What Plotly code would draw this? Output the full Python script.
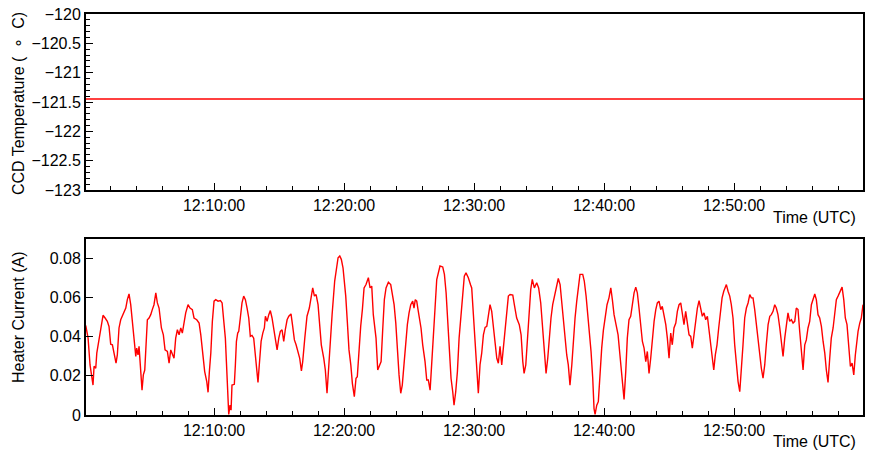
import pandas as pd
import plotly.graph_objects as go

# ---- data ----
BASE = "2016-01-01 12:00:00"

ccd_minutes = [0.10, 30.0, 59.95]
ccd_temp = [-121.45, -121.45, -121.45]

heater_minutes = [
    0.13, 0.31, 0.46, 0.56, 0.69, 0.77, 0.90, 0.98, 1.15, 1.33, 1.46, 1.62, 1.79, 1.92, 2.05, 2.18,
    2.31, 2.46, 2.56, 2.69, 2.82, 3.02, 3.21, 3.33, 3.46, 3.59, 3.72, 3.85, 3.98, 4.05, 4.15, 4.23,
    4.36, 4.46, 4.56, 4.67, 4.77, 4.87, 5.00, 5.13, 5.25, 5.38, 5.52, 5.64, 5.77, 5.95, 6.10, 6.23,
    6.41, 6.54, 6.67, 6.79, 6.92, 7.05, 7.18, 7.31, 7.44, 7.56, 7.69, 7.82, 8.00, 8.15, 8.33, 8.46,
    8.67, 8.85, 8.98, 9.10, 9.28, 9.44, 9.54, 9.64, 9.75, 9.87, 10.00, 10.13, 10.31, 10.49, 10.62,
    10.75, 10.87, 10.95, 11.02, 11.13, 11.23, 11.31, 11.38, 11.56, 11.64, 11.72, 11.82, 11.90, 12.02,
    12.15, 12.28, 12.41, 12.54, 12.67, 12.79, 12.92, 13.05, 13.18, 13.31, 13.38, 13.48, 13.62, 13.75,
    13.87, 13.95, 14.08, 14.21, 14.33, 14.46, 14.59, 14.72, 14.85, 14.98, 15.10, 15.23, 15.36, 15.48,
    15.62, 15.75, 15.92, 16.05, 16.18, 16.31, 16.46, 16.59, 16.72, 16.82, 16.98, 17.15, 17.33, 17.48,
    17.59, 17.72, 17.85, 18.00, 18.13, 18.25, 18.44, 18.56, 18.69, 18.82, 18.95, 19.08, 19.28, 19.38,
    19.54, 19.67, 19.79, 19.92, 20.00, 20.13, 20.25, 20.38, 20.52, 20.64, 20.79, 20.92, 21.02, 21.15,
    21.28, 21.41, 21.54, 21.69, 21.87, 22.00, 22.13, 22.25, 22.46, 22.59, 22.72, 22.85, 22.98, 23.10,
    23.23, 23.41, 23.59, 23.72, 23.85, 23.98, 24.10, 24.23, 24.36, 24.48, 24.62, 24.75, 24.87, 25.00,
    25.13, 25.28, 25.38, 25.48, 25.59, 25.69, 25.79, 25.92, 26.05, 26.23, 26.36, 26.48, 26.62, 26.75,
    26.87, 27.00, 27.13, 27.26, 27.38, 27.59, 27.72, 27.85, 27.98, 28.10, 28.23, 28.36, 28.46, 28.59,
    28.72, 28.85, 28.98, 29.13, 29.25, 29.38, 29.56, 29.73, 29.82, 29.95, 30.08, 30.21, 30.33, 30.46,
    30.59, 30.72, 30.85, 30.98, 31.10, 31.23, 31.36, 31.48, 31.62, 31.75, 31.87, 32.00, 32.13, 32.25,
    32.38, 32.52, 32.64, 32.77, 32.98, 33.10, 33.28, 33.48, 33.62, 33.75, 33.85, 33.98, 34.10, 34.23,
    34.36, 34.48, 34.64, 34.82, 34.97, 35.13, 35.28, 35.41, 35.54, 35.67, 35.79, 35.92, 36.05, 36.18,
    36.31, 36.48, 36.62, 36.75, 36.87, 37.00, 37.13, 37.25, 37.38, 37.52, 37.64, 37.77, 37.90, 38.02,
    38.15, 38.36, 38.48, 38.62, 38.75, 38.87, 39.00, 39.13, 39.23, 39.31, 39.44, 39.56, 39.69, 39.82,
    39.95, 40.10, 40.23, 40.38, 40.52, 40.64, 40.77, 40.95, 41.08, 41.21, 41.33, 41.46, 41.54, 41.67,
    41.79, 41.92, 42.05, 42.18, 42.31, 42.44, 42.56, 42.69, 42.82, 42.95, 43.08, 43.21, 43.33, 43.46,
    43.59, 43.72, 43.85, 43.98, 44.10, 44.23, 44.36, 44.48, 44.62, 44.75, 44.87, 45.00, 45.13, 45.25,
    45.38, 45.52, 45.64, 45.77, 45.90, 46.02, 46.15, 46.28, 46.41, 46.54, 46.67, 46.79, 46.92, 47.05,
    47.18, 47.31, 47.44, 47.56, 47.69, 47.82, 47.95, 48.08, 48.21, 48.33, 48.44, 48.56, 48.69, 48.82,
    48.95, 49.08, 49.21, 49.41, 49.54, 49.67, 49.79, 49.92, 50.05, 50.18, 50.31, 50.44, 50.56, 50.69,
    50.82, 50.95, 51.08, 51.21, 51.33, 51.46, 51.59, 51.72, 51.85, 51.98, 52.10, 52.23, 52.36, 52.48,
    52.62, 52.75, 52.87, 53.00, 53.13, 53.25, 53.38, 53.52, 53.64, 53.77, 53.90, 54.02, 54.15, 54.28,
    54.41, 54.54, 54.67, 54.79, 54.92, 55.05, 55.18, 55.31, 55.44, 55.56, 55.69, 55.82, 55.95, 56.08,
    56.21, 56.33, 56.46, 56.59, 56.72, 56.85, 56.98, 57.10, 57.23, 57.36, 57.48, 57.62, 57.75, 57.87,
    58.00, 58.18, 58.31, 58.44, 58.56, 58.69, 58.82, 58.95, 59.08, 59.21, 59.33, 59.41, 59.54, 59.67,
    59.79, 59.92,
]

heater_mA = [
    45.8, 39.3, 25.6, 20.5, 15.3, 24.9, 23.9, 31.6, 39.3, 45.8, 51.0, 49.6, 47.9, 45.3, 36.2, 35.9,
    31.6, 26.5, 30.7, 44.5, 48.7, 52.2, 54.7, 59.0, 61.9, 56.4, 47.9, 35.9, 29.9, 34.2, 30.7, 35.1,
    23.9, 12.7, 20.5, 23.0, 35.9, 48.7, 49.6, 51.3, 53.9, 56.4, 62.5, 57.3, 54.7, 44.5, 41.0, 33.3,
    32.5, 26.5, 33.3, 31.6, 29.0, 39.3, 43.6, 41.0, 44.5, 41.9, 47.9, 52.2, 56.4, 54.7, 53.9, 49.6,
    48.7, 47.0, 41.0, 32.5, 22.2, 17.1, 11.6, 22.2, 31.6, 47.9, 58.2, 59.0, 58.2, 58.5, 57.3,
    47.9, 39.3, 27.3, 12.7, 0.3, 5.0, 2.5, 15.3, 15.7, 25.6, 37.6, 41.9, 42.8, 49.6,
    57.3, 60.8, 59.0, 54.7, 49.6, 40.2, 40.7, 39.3, 31.6, 22.2, 16.7, 25.6, 37.6, 41.9,
    44.5, 50.5, 47.9, 51.3, 53.4, 49.6, 44.5, 37.6, 33.3, 39.3, 42.8, 43.6, 37.6, 43.6,
    48.7, 50.5, 51.7, 45.3, 38.4, 35.9, 31.6, 29.0, 22.5, 27.3, 39.3, 50.5, 54.7, 59.9,
    65.0, 60.8, 61.6, 56.4, 46.2, 35.9, 29.0, 23.0, 11.1, 25.6, 41.0, 51.3, 68.5, 73.6,
    80.4, 81.3, 79.6, 75.3, 70.2, 60.8, 47.9, 33.3, 25.6, 16.2, 9.4, 18.8, 19.6, 35.9,
    45.3, 53.9, 65.0, 66.7, 70.2, 65.0, 65.9, 51.3, 39.3, 23.0, 24.8, 27.3, 44.5, 59.0,
    65.0, 67.9, 66.7, 62.5, 56.4, 47.0, 32.5, 20.5, 11.1, 15.3, 26.5, 39.3, 46.2, 52.2,
    56.4, 58.2, 54.7, 59.0, 58.2, 53.9, 50.5, 44.5, 35.9, 27.3, 17.9, 17.9, 12.7, 25.6,
    39.3, 54.7, 69.3, 73.6, 76.2, 75.7, 71.9, 62.5, 47.9, 34.2, 18.8, 11.9, 5.0, 11.9,
    22.2, 39.3, 51.3, 65.0, 71.0, 72.7, 70.2, 66.6, 65.0, 51.3, 35.9, 25.6, 11.1, 25.6,
    31.6, 41.0, 44.8, 45.3, 50.5, 56.4, 53.0, 44.5, 36.8, 29.0, 26.5, 35.1, 25.6, 33.3,
    41.0, 51.3, 60.8, 61.6, 61.3, 56.4, 49.6, 46.2, 41.0, 27.3, 21.3, 25.6, 39.3, 51.3,
    64.1, 69.3, 65.0, 67.6, 65.0, 57.3, 45.3, 32.5, 21.3, 29.0, 39.3, 49.6, 56.4, 60.8,
    63.3, 69.8, 66.7, 57.3, 47.9, 39.3, 30.7, 25.6, 15.3, 25.6, 39.3, 49.6, 58.2, 65.0,
    71.9, 71.9, 68.5, 60.8, 51.3, 39.3, 32.5, 18.8, 3.3, 0.3, 5.0, 6.8, 22.2, 34.2,
    43.4, 49.6, 56.4, 59.9, 65.0, 59.0, 51.3, 45.3, 41.0, 31.6, 23.9, 14.5, 8.0, 22.2,
    39.3, 48.7, 50.5, 56.4, 62.5, 65.4, 62.5, 54.7, 46.2, 37.6, 34.2, 27.3, 32.5, 21.3,
    29.0, 39.3, 47.9, 53.9, 57.3, 58.2, 53.9, 55.6, 51.3, 46.2, 39.3, 29.0, 41.9, 35.9,
    44.5, 47.0, 53.0, 56.4, 57.3, 52.2, 46.2, 53.0, 46.2, 41.0, 40.2, 34.2, 41.0, 48.7,
    54.7, 58.5, 53.9, 50.5, 52.2, 48.7, 50.5, 42.8, 35.9, 27.3, 23.0, 30.7, 35.9, 44.5,
    51.3, 59.9, 63.3, 66.7, 63.3, 60.8, 56.4, 49.6, 35.9, 25.6, 17.1, 11.9, 22.2, 35.9,
    49.6, 54.7, 57.3, 61.6, 59.9, 59.9, 53.9, 46.2, 37.6, 31.6, 23.9, 18.8, 25.6, 35.9,
    46.2, 50.5, 51.3, 53.0, 56.4, 54.7, 51.3, 44.5, 35.9, 29.9, 39.3, 47.0, 52.2, 47.9,
    48.7, 47.0, 47.9, 54.7, 53.9, 42.8, 34.2, 23.0, 35.9, 38.4, 44.5, 47.9, 56.4, 59.9,
    61.9, 59.0, 51.3, 49.6, 45.3, 37.6, 31.6, 23.0, 16.7, 29.0, 39.3, 44.5, 53.0, 59.0,
    60.8, 63.3, 65.4, 59.0, 49.6, 46.2, 34.2, 24.8, 26.5, 20.5, 30.7, 35.9, 42.8, 47.0,
    49.6, 56.4,
]

x_range_minutes = [0.15, 59.92]
temp_range = [-123.0, -120.0]
current_range = [0.0, 0.09]

# ---- build ----
base = pd.Timestamp(BASE)
def to_time(mins):
    return base + pd.to_timedelta(pd.Series(mins, dtype=float), unit="m")

ccd_t = to_time(ccd_minutes)
heat_t = to_time(heater_minutes)
heat_A = [v / 1000.0 for v in heater_mA]
xr = list(to_time(x_range_minutes))

FONT = "Liberation Sans, Arial, Helvetica, sans-serif"
RED = "#ff0000"

fig = go.Figure()
fig.add_trace(go.Scatter(x=ccd_t, y=ccd_temp, mode="lines",
                         line=dict(color=RED, width=1.6), xaxis="x", yaxis="y",
                         showlegend=False, hoverinfo="skip"))
fig.add_trace(go.Scatter(x=heat_t, y=heat_A, mode="lines",
                         line=dict(color=RED, width=1.4), xaxis="x2", yaxis="y2",
                         showlegend=False, hoverinfo="skip"))

common_x = dict(type="date", range=xr, tickformat="%H:%M:%S", automargin=False,
                tick0=BASE, dtick=600000, ticks="inside", ticklen=7, tickwidth=1,
                tickcolor="black", showline=True, linecolor="black", linewidth=2,
                mirror=True, showgrid=False, zeroline=False,
                tickfont=dict(family=FONT, size=16, color="black"),
                minor=dict(dtick=120000, tick0=BASE, ticks="inside", ticklen=4,
                           tickcolor="black", showgrid=False))
common_y = dict(ticks="inside", ticklen=7, tickwidth=1, tickcolor="black", automargin=False,
                showline=True, linecolor="black", linewidth=2, mirror=True,
                showgrid=False, zeroline=False,
                tickfont=dict(family=FONT, size=16, color="black"))

H_TOP = 176 / 401.0
fig.update_layout(
    width=872, height=459,
    margin=dict(l=86, r=9, t=14, b=44),
    paper_bgcolor="white", plot_bgcolor="white",
    font=dict(family=FONT, size=16, color="black"),
    xaxis=dict(anchor="y", domain=[0, 1], **common_x),
    yaxis=dict(anchor="x", domain=[1 - H_TOP, 1], range=[temp_range[0] - 0.001, temp_range[1] + 0.001],
               tick0=-123, dtick=0.5,
               minor=dict(dtick=0.1, tick0=-123, ticks="inside", ticklen=4,
                          tickcolor="black", showgrid=False),
               **common_y),
    xaxis2=dict(anchor="y2", domain=[0, 1], **common_x),
    yaxis2=dict(anchor="x2", domain=[0, H_TOP], range=current_range,
                tick0=0, dtick=0.02, **common_y),
    annotations=[
        dict(text="CCD Temperature (  ∘  C)", xref="paper", yref="paper",
             x=-0.0875, y=(415 - 104) / 401.0, xanchor="center", yanchor="middle",
             textangle=-90, showarrow=False, font=dict(family=FONT, size=16)),
        dict(text="Heater Current (A)", xref="paper", yref="paper",
             x=-0.0875, y=(415 - 317) / 401.0, xanchor="center", yanchor="middle",
             textangle=-90, showarrow=False, font=dict(family=FONT, size=16)),
        dict(text="Time (UTC)", xref="paper", yref="paper",
             x=(858 - 86) / 777.0, y=(415 - 217) / 401.0, xanchor="right", yanchor="middle",
             showarrow=False, font=dict(family=FONT, size=16)),
        dict(text="Time (UTC)", xref="paper", yref="paper",
             x=(858 - 86) / 777.0, y=(415 - 442) / 401.0, xanchor="right", yanchor="middle",
             showarrow=False, font=dict(family=FONT, size=16)),
    ],
)

fig.write_html("out.html", config={"responsive": False, "displayModeBar": False},
               post_script="document.body.style.margin='0';document.body.style.overflow='hidden';")
